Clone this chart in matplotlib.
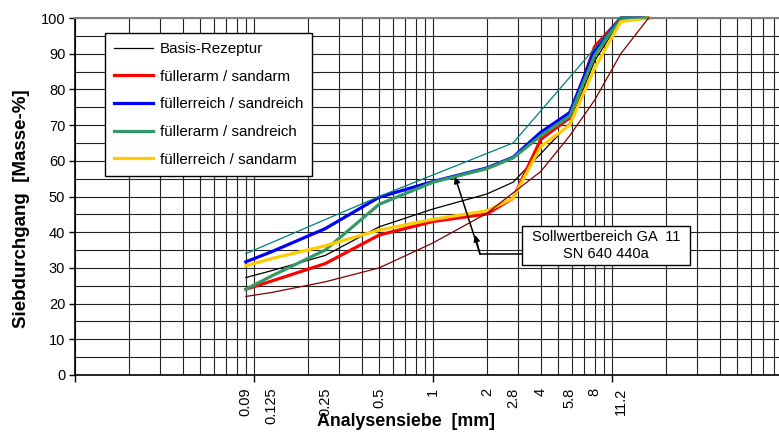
"""Siebkurven: Basis-Rezeptur und vier Varianten gegen den Sollwertbereich GA 11."""

import matplotlib

matplotlib.use("Agg")
import matplotlib.pyplot as plt
import matplotlib.transforms as mtransforms
from matplotlib.patches import Rectangle
from matplotlib.ticker import LogLocator, MultipleLocator, NullFormatter

plt.rcParams["font.family"] = ["Liberation Sans", "DejaVu Sans"]

# sieve sizes [mm]
sieves = [0.09, 0.125, 0.25, 0.5, 1, 2, 2.8, 4, 5.8, 8, 11.2, 16]
sieve_labels = ["0.09", "0.125", "0.25", "0.5", "1", "2", "2.8", "4", "5.8", "8", "11.2"]

# passing [mass-%]
basis = [27.3, 29.2, 33.5, 41.5, 46.5, 50.7, 54.0, 62.0, 70.5, 88.0, 99.5, 100]
fuellerarm_sandarm = [24.0, 26.3, 31.2, 39.2, 43.0, 45.1, 49.5, 66.0, 72.0, 92.0, 100, 100]
fuellerreich_sandreich = [31.7, 34.5, 41.0, 49.8, 54.2, 58.0, 61.0, 68.0, 73.5, 91.0, 100, 100]
fuellerarm_sandreich = [24.0, 27.7, 35.0, 47.8, 54.0, 57.8, 60.8, 67.0, 72.5, 89.5, 100, 100]
fuellerreich_sandarm = [30.6, 32.6, 36.2, 40.6, 43.6, 46.0, 49.5, 64.0, 70.0, 86.0, 99.0, 100]

# Sollwertbereich GA 11 (SN 640 440a)
upper_sieves = [0.09, 0.5, 2.8, 11.2, 16]
upper_limit = [34, 50, 65, 100, 100]
lower_limit = [22, 23.1, 26.1, 30, 37, 45.3, 51, 57, 67, 77, 90, 100]

series = [
    ("Basis-Rezeptur", basis, "black", 0.9),
    ("füllerarm / sandarm", fuellerarm_sandarm, "#ff0000", 2.3),
    ("füllerreich / sandreich", fuellerreich_sandreich, "#0000ff", 2.3),
    ("füllerarm / sandreich", fuellerarm_sandreich, "#339966", 2.3),
    ("füllerreich / sandarm", fuellerreich_sandarm, "#ffcc00", 2.3),
]

W, H = 779, 433
fig = plt.figure(figsize=(W / 100, H / 100), dpi=100)
ax = fig.add_axes([75 / W, 1 - 375 / H, 1 - 75 / W, 357 / H])

for label, vals, color, lw in series:
    ax.plot(sieves, vals, color=color, linewidth=lw, label=label, zorder=3, clip_on=False)
ax.plot(upper_sieves, upper_limit, color="#008080", linewidth=0.9, zorder=3, clip_on=False)
ax.plot(sieves, lower_limit, color="#800000", linewidth=0.9, zorder=3, clip_on=False)

ax.set_xscale("log")
ax.set_xlim(0.01, 10 ** ((W - 75) / 179 - 2))
ax.set_ylim(0, 100)

ax.xaxis.set_major_locator(LogLocator(base=10, numticks=10))
ax.xaxis.set_minor_locator(LogLocator(base=10, subs=range(2, 10), numticks=20))
ax.xaxis.set_major_formatter(NullFormatter())
ax.xaxis.set_minor_formatter(NullFormatter())
ax.yaxis.set_major_locator(MultipleLocator(10))
ax.yaxis.set_minor_locator(MultipleLocator(5))

ax.grid(True, which="both", color="#222222", linewidth=0.8, zorder=0)
ax.set_axisbelow(True)
ax.tick_params(axis="x", which="major", direction="out", length=5, width=1, color="black")
ax.tick_params(axis="x", which="minor", length=0)
ax.tick_params(axis="y", which="major", direction="out", length=4, width=1,
               labelsize=10.5, pad=3)
ax.tick_params(axis="y", which="minor", length=0)
for side in ("left", "bottom"):
    ax.spines[side].set_linewidth(1.2)
ax.spines["right"].set_visible(False)
ax.spines["top"].set_color("#808080")
ax.spines["top"].set_linewidth(1.5)

# sieve labels under the axis
trans = mtransforms.blended_transform_factory(ax.transData, ax.transAxes)
for s, lab in zip(sieves, sieve_labels):
    ax.text(s, -0.036, lab, transform=trans, rotation=90, ha="center", va="top",
            fontsize=10.5)

fig.text(406 / W, 1 - 421 / H, "Analysensiebe  [mm]", ha="center", va="center",
         fontsize=12.8, fontweight="bold")
fig.text(22 / W, 1 - 209 / H, "Siebdurchgang  [Masse-%]", ha="center", va="center",
         rotation=90, fontsize=13.5, fontweight="bold")

leg = ax.legend(loc="upper left", bbox_to_anchor=(105 / W, 1 - 33 / H),
                bbox_transform=fig.transFigure, fontsize=10.9, frameon=True,
                fancybox=False, framealpha=1, edgecolor="black",
                handlelength=2.6, handletextpad=0.4, labelspacing=0.9,
                borderpad=0.6, borderaxespad=0)
leg.get_frame().set_linewidth(1.0)
leg.set_zorder(5)

# Sollwertbereich label with leader lines
box_l, box_r = 10 ** ((522 - 75) / 179 - 2), 10 ** ((690 - 75) / 179 - 2)
ax.add_patch(Rectangle((box_l, 30.8), box_r - box_l, 10.9, facecolor="white",
                       edgecolor="black", linewidth=1.0, zorder=6))
ax.text(10 ** ((606 - 75) / 179 - 2), 36.3, "Sollwertbereich GA  11\nSN 640 440a",
        ha="center", va="center", fontsize=10.5, linespacing=1.3, zorder=7)
corner = (10 ** ((480 - 75) / 179 - 2), 33.9)
ax.plot([corner[0], box_l], [corner[1], corner[1]], color="black", linewidth=1.1, zorder=6)
for tip in [(10 ** ((475 - 75) / 179 - 2), 39.2), (10 ** ((455 - 75) / 179 - 2), 55.5)]:
    ax.annotate("", xy=tip, xytext=corner,
                arrowprops=dict(arrowstyle="-|>", color="black", lw=1.1,
                                mutation_scale=9, shrinkA=0, shrinkB=0),
                zorder=6)

fig.savefig("out.png", dpi=100)
